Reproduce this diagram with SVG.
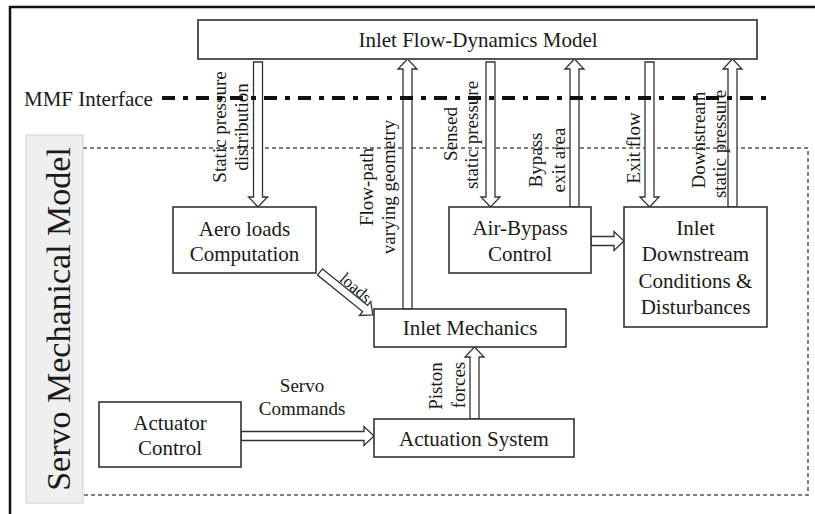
<svg xmlns="http://www.w3.org/2000/svg" width="815" height="514" viewBox="0 0 815 514" font-family="'Liberation Serif', 'Times New Roman', serif">
<style>
text{font-family:"Liberation Serif","Times New Roman",serif;fill:#1a1a1a}
.bt{font-size:21px;text-anchor:middle}
.lb{font-size:19px;text-anchor:middle}
.box{fill:#fff;stroke:#333;stroke-width:1.6}
.arr{fill:#fff;stroke:#333;stroke-width:1.3;stroke-linejoin:miter}
</style>
<rect x="0" y="0" width="815" height="514" fill="#fff"/>
<g id="frame">
<path d="M10,514 V7 H815" fill="none" stroke="#111" stroke-width="2.5"/>
</g>
<g id="servo-region">
<path d="M83,148 H808 V495 H83" fill="none" stroke="#555" stroke-width="1.5" stroke-dasharray="4,3"/>
<rect x="26" y="135" width="57" height="368" fill="#efefef" stroke="#cfcfcf" stroke-width="1"/>
<text transform="translate(70,319) rotate(-90)" style="font-size:34px;text-anchor:middle">Servo Mechanical Model</text>
</g>
<g id="connectors">
<path class="arr" d="M253.5,62 H262.5 V197 H267.5 L258,207 L248.5,197 H253.5 Z"/>
<path class="arr" d="M486,62 H495 V197 H500 L490.5,207 L481,197 H486 Z"/>
<path class="arr" d="M645,62 H654 V197 H659 L649.5,207 L640,197 H645 Z"/>
<path class="arr" d="M403,309 V69 H398 L407.5,59 L417,69 H412 V309 Z"/>
<path class="arr" d="M570,207 V69 H565 L574.5,59 L584,69 H579 V207 Z"/>
<path class="arr" d="M728,207 V69 H723 L732.5,59 L742,69 H737 V207 Z"/>
<path class="arr" d="M470,419 V357 H465 L474.5,347 L484,357 H479 V419 Z"/>
<path class="arr" d="M241,431.5 H364 V426.5 L374,436 L364,445.5 V440.5 H241 Z"/>
<path class="arr" d="M591,236.5 H614 V231.5 L624,241 L614,250.5 V245.5 H591 Z"/>
<path class="arr" transform="translate(320,272) rotate(39)" d="M0,-4 H58 V-9 L68,0 L58,9 V4 H0 Z"/>
<text class="lb" transform="translate(226,127) rotate(-90)">Static pressure</text>
<text class="lb" transform="translate(248,127) rotate(-90)">distribution</text>
<text class="lb" transform="translate(373,187) rotate(-90)">Flow-path</text>
<text class="lb" transform="translate(395,187) rotate(-90)">varying geometry</text>
<text class="lb" transform="translate(457,134) rotate(-90)">Sensed</text>
<text class="lb" transform="translate(478,135) rotate(-90)">static pressure</text>
<text class="lb" transform="translate(542,160) rotate(-90)">Bypass</text>
<text class="lb" transform="translate(565,160) rotate(-90)">exit area</text>
<text class="lb" transform="translate(640,148) rotate(-90)">Exit flow</text>
<text class="lb" transform="translate(705,140) rotate(-90)">Downstream</text>
<text class="lb" transform="translate(726,144) rotate(-90)">static pressure</text>
<text class="lb" transform="translate(442,386) rotate(-90)">Piston</text>
<text class="lb" transform="translate(465,385) rotate(-90)">forces</text>
<text class="lb" transform="translate(352,292) rotate(41)" style="font-size:17px">loads</text>
<text class="lb" x="302" y="392">Servo</text>
<text class="lb" x="302" y="415">Commands</text>
</g>
<g id="mmf-interface">
<line x1="162" y1="98" x2="770" y2="98" stroke="#111" stroke-width="4" stroke-dasharray="13,8,5,8"/>
<text x="24" y="106" style="font-size:21px">MMF Interface</text>
</g>
<g id="inlet-flow-dynamics-model">
<rect class="box" x="198" y="20" width="559" height="39" style="stroke:#555;stroke-width:2"/>
<text class="bt" x="478" y="47">Inlet Flow-Dynamics Model</text>
</g>
<g id="aero-loads">
<rect class="box" x="173" y="207" width="143" height="66"/>
<text class="bt" x="244.5" y="236">Aero loads</text>
<text class="bt" x="244.5" y="261">Computation</text>
</g>
<g id="air-bypass-control">
<rect class="box" x="449" y="207" width="142" height="66"/>
<text class="bt" x="520" y="235">Air-Bypass</text>
<text class="bt" x="520" y="261">Control</text>
</g>
<g id="inlet-downstream">
<rect class="box" x="624" y="207" width="143" height="120"/>
<text class="bt" x="695.5" y="235">Inlet</text>
<text class="bt" x="695.5" y="261">Downstream</text>
<text class="bt" x="695.5" y="288">Conditions &amp;</text>
<text class="bt" x="695.5" y="314">Disturbances</text>
</g>
<g id="inlet-mechanics">
<rect class="box" x="374" y="309" width="192" height="38"/>
<text class="bt" x="470" y="335">Inlet Mechanics</text>
</g>
<g id="actuator-control">
<rect class="box" x="99" y="402" width="142" height="65"/>
<text class="bt" x="170" y="430">Actuator</text>
<text class="bt" x="170" y="455">Control</text>
</g>
<g id="actuation-system">
<rect class="box" x="374" y="419" width="200" height="38"/>
<text class="bt" x="474" y="446">Actuation System</text>
</g>
</svg>
